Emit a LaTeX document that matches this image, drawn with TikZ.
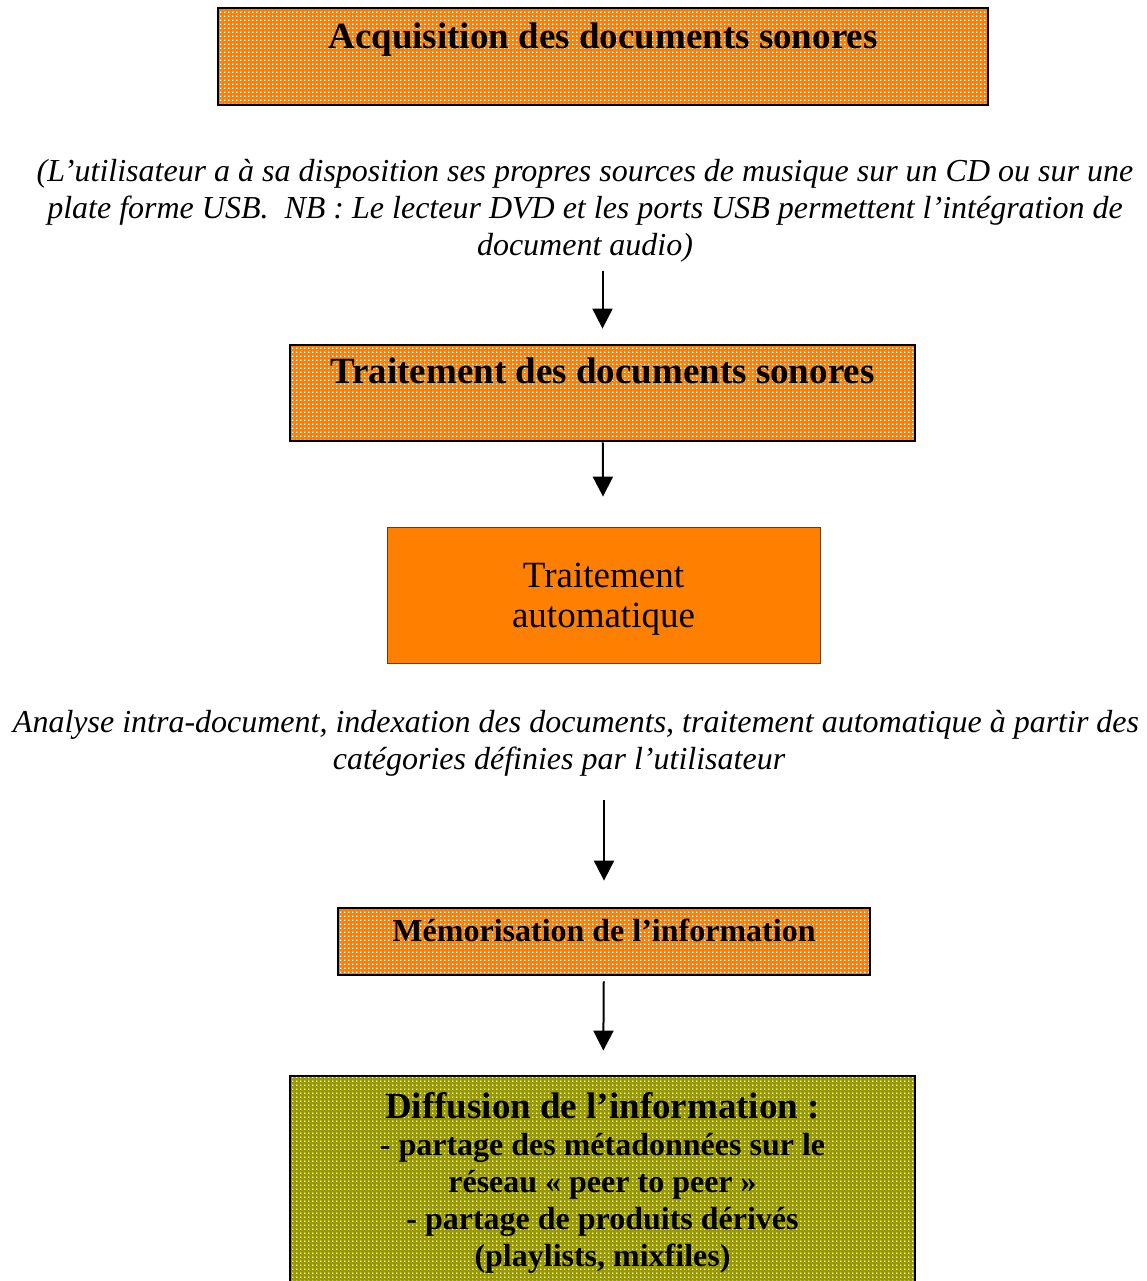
\documentclass[tikz,border=0pt]{standalone}
\usepackage{fontspec}
\setmainfont{Liberation Serif}
\usepackage{xcolor}
\usetikzlibrary{arrows.meta,patterns,positioning}

\definecolor{boxorange}{RGB}{255,128,0}
\definecolor{boxolive}{RGB}{153,153,0}

% small white squares on a 2pt grid
\pgfdeclarepatternformonly{whitegrid}{\pgfpointorigin}{\pgfpoint{2pt}{2pt}}{\pgfpoint{2pt}{2pt}}{%
  \pgfpathrectangle{\pgfpointorigin}{\pgfpoint{0.9pt}{0.9pt}}%
  \pgfusepath{fill}}

\begin{document}
\begin{tikzpicture}[x=0.5pt, y=-0.5pt, >={Triangle[width=10pt,length=10pt]}]
        \tikzstyle{block} = [rectangle, draw, line width=1.4pt, inner sep=0pt, font=\bfseries\fontsize{18.5}{21}\selectfont]
        \tikzstyle{orangedots} = [preaction={fill=boxorange}, pattern=whitegrid, pattern color=white]
        \tikzstyle{olivedots} = [preaction={fill=boxolive}, pattern=whitegrid, pattern color=white]
        \tikzstyle{note} = [align=center, font=\itshape\fontsize{16}{18.5}\selectfont]
        \tikzstyle{line} = [draw, ->, line width=1pt]

        \useasboundingbox (0,0) rectangle (1147,1281);

        % Acquisition
        \node [block, orangedots, minimum width=385pt, text height=20pt, text depth=28.5pt] (acq) at (603,56.5) {Acquisition des documents sonores};
        \node [note] (note1) at (585,211) {(L’utilisateur a à sa disposition ses propres sources de musique sur un CD ou sur une\\plate forme USB.~ NB : Le lecteur DVD et les ports USB permettent l’intégration de\\document audio)};

        % Traitement
        \node [block, orangedots, minimum width=312.5pt, text height=19pt, text depth=29pt] (trait) at (602.5,393) {Traitement des documents sonores};
        \node [rectangle, draw=boxorange!45!black, thin, fill=boxorange, minimum width=216.5pt, minimum height=68pt, text depth=0pt, align=center, font=\fontsize{18.5}{20}\selectfont] (auto) at (603.5,595) {Traitement\\automatique};
        \node [note] (note2) at (576,743) {Analyse intra-document, indexation des documents, traitement automatique à partir des\\catégories définies par l’utilisateur\hspace*{17pt}};

        % Memorisation + diffusion
        \node [block, orangedots, minimum width=266pt, text height=16.5pt, text depth=17pt, font=\bfseries\fontsize{16}{18.5}\selectfont] (memo) at (604,941.5) {Mémorisation de l’information};
        \node [block, olivedots, minimum width=312.5pt, minimum height=107pt, align=center, font=\bfseries\fontsize{16}{18.5}\selectfont] (diff) at (602.5,1183) {{\fontsize{18.5}{18.5}\selectfont Diffusion de l’information :}\\- partage des métadonnées sur le\\réseau «~peer to peer~»\\- partage de produits dérivés\\(playlists, mixfiles)};

        % Paths
        \path [line, shorten <=0.5pt, shorten >=7.5pt] (note1.south -| trait.north) -- (trait.north);
        \path [line, shorten >=15pt] (trait) -- (auto);
        \path [line, shorten <=8.5pt, shorten >=13pt] (note2.south -| memo.north) -- (memo.north);
        \path [line, shorten <=2.5pt, shorten >=12pt] (memo) -- (diff);
\end{tikzpicture}
\end{document}
